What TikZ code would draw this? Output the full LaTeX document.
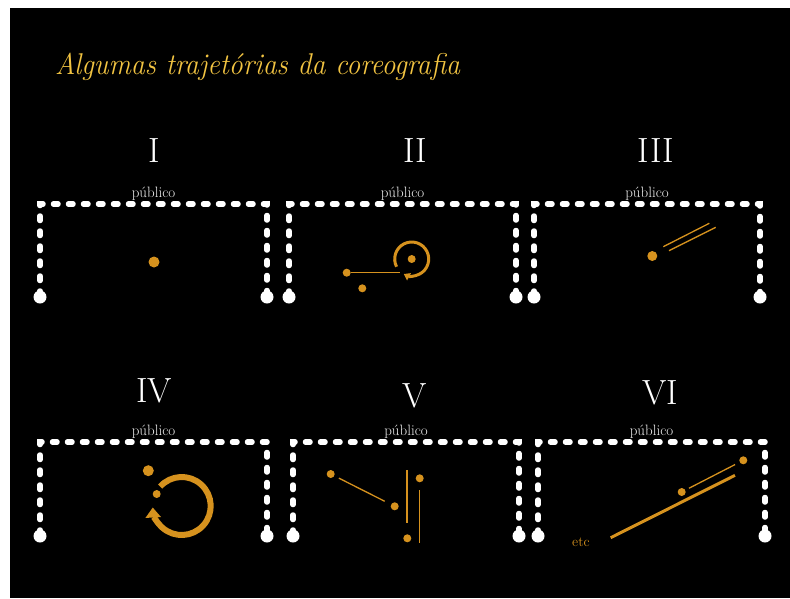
\documentclass[tikz,border=0pt]{standalone}
\usetikzlibrary{arrows.meta}
\definecolor{gold}{RGB}{242,196,66}
\definecolor{ochre}{RGB}{214,146,30}
\definecolor{paper}{RGB}{238,238,238}
\tikzset{
  stageline/.style={draw=white, line width=5.5pt, line cap=round,
    dash pattern=on 4.5pt off 10.5pt, dash phase=13.5pt},
  wing/.style={circle, fill=white, minimum size=13pt, inner sep=0pt},
  dancer/.style={circle, fill=ochre, minimum size=8pt, inner sep=0pt},
  bigdancer/.style={dancer, minimum size=11pt},
  pathline/.style={draw=ochre, line width=1.3pt},
  numeral/.style={text=white, inner sep=0pt, anchor=base,
    font=\fontsize{35}{35}\selectfont},
  audience/.style={text=paper, inner sep=0pt, anchor=base,
    font=\fontsize{15}{15}\selectfont},
}
% stage outline: name, left x, right x, top y, bottom y
\newcommand\stageoutline[5]{%
  \coordinate (#1-tl) at (#2,#4);
  \coordinate (#1-tr) at (#3,#4);
  \coordinate (#1-bl) at (#2,#5);
  \coordinate (#1-br) at (#3,#5);
  \draw[stageline] (#1-bl) -- (#1-tl) -- (#1-tr) -- (#1-br);
  \node[wing] (#1-wl) at (#1-bl) {};
  \node[wing] (#1-wr) at (#1-br) {};
  \node[audience] (#1-aud) at ({(#2+#3)/2},#4-7) {público};
}
\begin{document}
\begin{tikzpicture}[x=1pt,y=-1pt]
\useasboundingbox (0,0) rectangle (790,598);
\fill[white] (0,0) rectangle (790,598);
\fill[black] (10,8) rectangle (790,598);

\node[anchor=base west, inner sep=0pt, text=gold, xscale=0.93,
  font=\fontsize{30}{30}\selectfont\itshape] (title) at (55,74)
  {Algumas trajetórias da coreografia};

% numerals
\node[numeral] (n1) at (154,162) {I};
\node[numeral] (n2) at (415,162) {II};
\node[numeral] (n3) at (656,162) {III};
\node[numeral] (n4) at (154,402) {IV};
\node[numeral] (n5) at (415,407) {V};
\node[numeral] (n6) at (660,404) {VI};

% stages
\stageoutline{s1}{40}{267}{204}{297}
\stageoutline{s2}{289}{516}{204}{297}
\stageoutline{s3}{534}{760}{204}{297}
\stageoutline{s4}{40}{267}{442}{536}
\stageoutline{s5}{293}{519}{442}{536}
\stageoutline{s6}{538}{765}{442}{536}

% I
\node[bigdancer] (d1) at (154,262) {};

% II
\node[dancer] (d2a) at (346.7,272.7) {};
\node[dancer] (d2b) at (362.3,288.3) {};
\node[dancer] (d2c) at (411.7,259) {};
\coordinate (d2end) at (400,272.7);
\draw[pathline] (d2a) -- (d2end);
\draw[ochre, line width=3pt, -{Triangle[length=6pt,width=8pt]}]
  (d2c) ++(153:17) arc[start angle=153, end angle=478, radius=17];

% III
\node[dancer, minimum size=10pt] (d3) at (652.3,256) {};
\coordinate (l3a) at (663.3,246.7);
\coordinate (l3b) at (709.3,223.3);
\coordinate (l3c) at (669,250.7);
\coordinate (l3d) at (715.7,227.3);
\draw[pathline] (l3a) -- (l3b);
\draw[pathline] (l3c) -- (l3d);

% IV
\coordinate (c4) at (181.7,506);
\draw[ochre, line width=6pt, -{Triangle[length=10pt,width=15pt]}]
  (c4) ++(222:29) arc[start angle=222, end angle=537, radius=29];
\node[bigdancer] (d4a) at (148.3,470.7) {};
\node[dancer] (d4b) at (156.7,494) {};

% V
\node[dancer] (d5a) at (330.7,474) {};
\node[dancer] (d5b) at (394.7,506.3) {};
\node[dancer] (d5c) at (407.3,538.3) {};
\node[dancer] (d5d) at (419.7,478.3) {};
\draw[pathline, shorten <=5pt, shorten >=7pt] (d5a) -- (d5b);
\coordinate (v5a) at (407,470);
\coordinate (v5b) at (407,522.7);
\coordinate (v5c) at (419.7,490);
\coordinate (v5d) at (419.7,542.7);
\draw[pathline] (v5a) -- (v5b);
\draw[pathline] (v5c) -- (v5d);

% VI
\node[dancer] (d6a) at (681.7,492) {};
\node[dancer] (d6b) at (743.3,460.3) {};
\draw[pathline, shorten <=4pt, shorten >=5pt] (d6a) -- (d6b);
\coordinate (t6a) at (610.7,537.7);
\coordinate (t6b) at (735,475.3);
\draw[ochre, line width=3pt] (t6a) -- (t6b);
\node[text=ochre, inner sep=0pt, anchor=base,
  font=\fontsize{14}{14}\selectfont] (etc) at (581,546) {etc};
\end{tikzpicture}
\end{document}
